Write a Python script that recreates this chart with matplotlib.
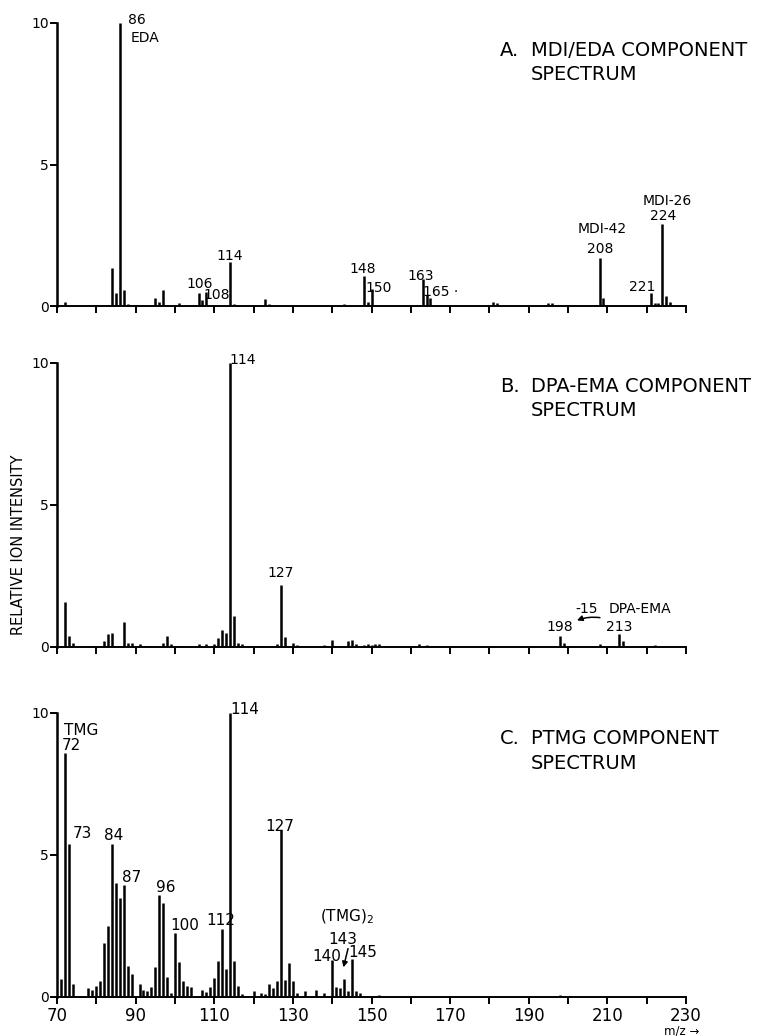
import matplotlib
matplotlib.use('Agg')
import matplotlib.pyplot as plt

# A. MDI/EDA component spectrum
mz_a = [72, 80, 84, 85, 86, 87, 88, 95, 96, 97,
        101, 105, 106, 107, 108, 114, 115, 123, 124, 140,
        143, 148, 149, 150, 163, 164, 165, 181, 182, 194,
        195, 196, 197, 208, 209, 221, 222, 223, 224, 225, 226]
int_a = [0.15, 0.05, 1.35, 0.45, 10, 0.55, 0.08, 0.3, 0.15, 0.55,
         0.12, 0.05, 0.45, 0.2, 0.5, 1.55, 0.08, 0.25, 0.08, 0.05,
         0.08, 1.05, 0.15, 0.6, 0.95, 0.4, 0.3, 0.15, 0.12, 0.05,
         0.1, 0.12, 0.05, 1.7, 0.28, 0.45, 0.12, 0.12, 2.9, 0.35, 0.15]

# B. DPA-EMA component spectrum
mz_b = [72, 73, 74, 78, 82, 83, 84, 87, 88, 89,
        91, 93, 94, 97, 98, 99, 100, 102, 106, 108,
        110, 111, 112, 113, 114, 115, 116, 117, 122, 125,
        126, 127, 128, 130, 131, 132, 137, 138, 140, 144,
        145, 146, 148, 149, 150, 151, 152, 153, 162, 164,
        166, 181, 198, 199, 208, 213, 214, 221, 222, 223, 224]
int_b = [1.6, 0.4, 0.15, 0.05, 0.2, 0.45, 0.5, 0.87, 0.15, 0.15,
         0.12, 0.05, 0.05, 0.15, 0.4, 0.12, 0.05, 0.05, 0.12, 0.12,
         0.12, 0.3, 0.6, 0.5, 10, 1.08, 0.15, 0.12, 0.05, 0.05,
         0.1, 2.2, 0.35, 0.15, 0.08, 0.05, 0.05, 0.08, 0.25, 0.2,
         0.25, 0.12, 0.08, 0.1, 0.08, 0.1, 0.1, 0.05, 0.12, 0.08,
         0.05, 0.05, 0.4, 0.15, 0.12, 0.47, 0.2, 0.05, 0.08, 0.05, 0.05]

# C. PTMG component spectrum
mz_c = [71, 72, 73, 74,
        78, 79, 80, 81, 82, 83, 84, 85, 86, 87, 88, 89,
        91, 92, 93, 94, 95, 96, 97, 98, 99, 100,
        101, 102, 103, 104,
        107, 108, 109, 110, 111, 112, 113, 114, 115, 116, 117,
        120, 122, 123, 124, 125, 126, 127, 128, 129, 130, 131, 133,
        136, 138, 140, 141, 142, 143, 144, 145, 146, 147,
        152, 167, 193, 198, 222]
int_c = [0.65, 8.6, 5.4, 0.45,
         0.3, 0.25, 0.4, 0.55, 1.9, 2.5, 5.4, 4.0, 3.5, 3.95, 1.1, 0.8,
         0.45, 0.25, 0.2, 0.35, 1.05, 3.6, 3.3, 0.7, 0.15, 2.25,
         1.25, 0.55, 0.4, 0.35,
         0.23, 0.18, 0.35, 0.67, 1.27, 2.4, 1.0, 10, 1.27, 0.39, 0.12,
         0.2, 0.15, 0.1, 0.45, 0.3, 0.55, 5.88, 0.6, 1.2, 0.55, 0.15, 0.2,
         0.25, 0.15, 1.3, 0.35, 0.3, 0.65, 0.2, 1.35, 0.2, 0.15,
         0.08, 0.05, 0.05, 0.08, 0.05]

x_ticks = list(range(70, 231, 10))
x_ticklabels = ['70', '', '90', '', '110', '', '130', '', '150', '',
                '170', '', '190', '', '210', '', '230']
y_ticks = [0, 5, 10]

# peak labels: (text, m/z, intensity)
labels_a = [('86', 90.4, 10.1), ('EDA', 92.4, 9.47), ('106', 106.4, 0.78),
            ('108', 110.6, 0.39), ('114', 113.9, 1.77), ('148', 147.7, 1.31),
            ('150', 151.7, 0.64), ('163', 162.5, 1.06), ('165 ·', 167.6, 0.48),
            ('MDI-42', 208.6, 2.72), ('208', 208.2, 2.01), ('MDI-26', 225.3, 3.71),
            ('224', 224.2, 3.18), ('221', 218.8, 0.68)]
labels_b = [('114', 117.3, 10.1), ('127', 127.0, 2.6), ('-15', 204.6, 1.34),
            ('DPA-EMA', 218.3, 1.34), ('198', 198.0, 0.69), ('213', 212.9, 0.69)]
labels_c = [('TMG', 76.2, 9.4), ('72', 73.6, 8.84), ('73', 76.5, 5.76),
            ('84', 84.5, 5.67), ('87', 89.1, 4.21), ('96', 97.7, 3.86),
            ('100', 102.4, 2.5), ('112', 111.7, 2.68), ('114', 117.8, 10.12),
            ('127', 126.7, 6.02), ('(TMG)$_2$', 143.7, 2.82), ('143', 142.6, 2.04),
            ('140', 138.6, 1.44), ('145', 147.7, 1.57)]

W, H = 774, 1036


def fx(px):
    return px / W


def fy(py):
    return 1 - py / H


fig = plt.figure(figsize=(7.74, 10.36), dpi=100)

left = fx(57)
width = (686 - 57) / W
panels = [
    (mz_a, int_a, labels_a, 23, 306, 10),
    (mz_b, int_b, labels_b, 363, 647, 10),
    (mz_c, int_c, labels_c, 713, 997, 11),
]

axes = []
for mz, inten, labs, top, bottom, fs in panels:
    ax = fig.add_axes([left, fy(bottom), width, (bottom - top) / H])
    ax.vlines(mz, 0, inten, colors='black', linewidth=1.8)
    ax.set_xlim(70, 230)
    ax.set_ylim(0, 10)
    for s in ['top', 'right']:
        ax.spines[s].set_visible(False)
    ax.spines['left'].set_linewidth(1.8)
    ax.spines['bottom'].set_linewidth(1.4)
    ax.set_xticks(x_ticks)
    ax.set_xticklabels([])
    ax.set_yticks(y_ticks)
    ax.set_yticklabels(['0', '5', '10'], fontsize=10)
    ax.tick_params(axis='both', direction='out', length=5, width=1.4, pad=1)
    for t, x, y in labs:
        ax.text(x, y, t, ha='center', va='center', fontsize=fs)
    axes.append(ax)

ax_a, ax_b, ax_c = axes
ax_c.set_xticklabels(x_ticklabels, fontsize=12)
ax_c.tick_params(axis='x', pad=2)

# arrows
ax_b.annotate('', xy=(201.6, 0.9), xytext=(208.8, 1.02),
              arrowprops=dict(arrowstyle='-|>', lw=1.1, color='black',
                              mutation_scale=8,
                              connectionstyle='arc3,rad=0.15'))
ax_c.annotate('', xy=(142.7, 0.95), xytext=(144.2, 1.8),
              arrowprops=dict(arrowstyle='-|>', lw=1.1, color='black',
                              mutation_scale=8))

# panel titles
titles = [('A.', 'MDI/EDA COMPONENT', 50.5, 74.5),
          ('B.', 'DPA-EMA COMPONENT', 386.5, 410.5),
          ('C.', 'PTMG COMPONENT', 738.5, 763.5)]
for letter, name, y1, y2 in titles:
    fig.text(fx(500), fy(y1), letter, fontsize=14, ha='left', va='center')
    fig.text(fx(531), fy(y1), name, fontsize=14, ha='left', va='center')
    fig.text(fx(531), fy(y2), 'SPECTRUM', fontsize=14, ha='left', va='center')

fig.text(fx(19), fy(545), 'RELATIVE ION INTENSITY', rotation=90,
         fontsize=10.5, ha='center', va='center')
fig.text(fx(682), fy(1031), 'm/z \u2192', fontsize=8.5, ha='center', va='center')

fig.savefig('out.png', dpi=100)
